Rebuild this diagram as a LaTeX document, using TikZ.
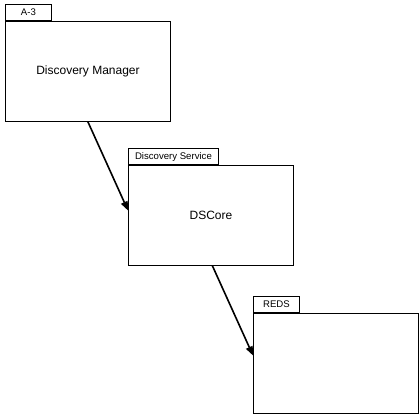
\documentclass[tikz,border=0pt]{standalone}
\usepackage{fontspec}
\setmainfont{Liberation Sans}
\usetikzlibrary{arrows.meta,calc}
\begin{document}
\begin{tikzpicture}[x=1pt,y=-1pt,
  body/.style={draw, line width=0.9pt, minimum width=165pt, minimum height=100pt, anchor=north west, inner sep=0pt, font=\fontsize{12}{14}\selectfont},
  tab/.style={draw, line width=0.9pt, minimum height=16pt, anchor=south west, inner sep=3pt, font=\fontsize{9.6}{11}\selectfont},
  conn/.style={line width=1.6pt, -{Triangle[width=7pt,length=9pt]}}]
\useasboundingbox (0,0) rectangle (419,414);
\node[body] (dm) at (5,21) {Discovery Manager};
\node[tab, minimum width=46pt] (t1) at (dm.north west) {A-3};
\node[body] (ds) at (128,165) {DSCore};
\node[tab, minimum width=90pt] (t2) at (ds.north west) {Discovery Service};
\node[body] (re) at (253,313) {};
\node[tab, minimum width=46pt] (t3) at (re.north west) {REDS};
\draw[conn] (dm.south) -- ([yshift=5pt]ds.west);
\draw[conn] ([xshift=1.5pt]ds.south) -- ([yshift=8pt]re.west);
\end{tikzpicture}
\end{document}
